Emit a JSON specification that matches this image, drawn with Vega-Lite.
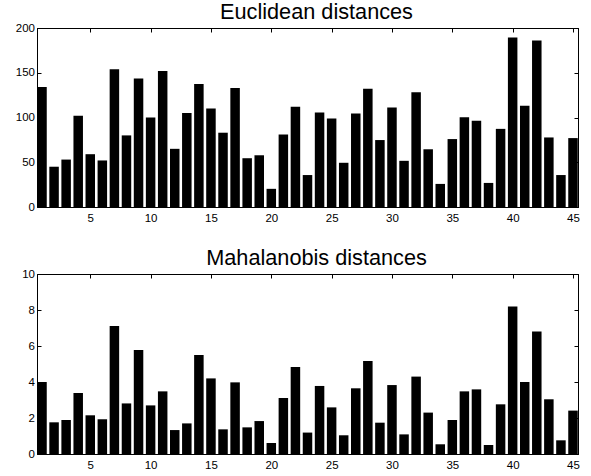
{
  "$schema": "https://vega.github.io/schema/vega-lite/v6.json",
  "background": "white",
  "padding": {"left": 14, "top": 1, "right": 14, "bottom": 2},
  "spacing": 23,
  "config": {
    "font": "Liberation Sans",
    "view": {"stroke": "black", "strokeWidth": 1},
    "title": {"fontSize": 21.7, "fontWeight": "normal", "color": "black", "offset": -2, "dx": 9, "font": "Liberation Sans"},
    "axis": {
      "domainColor": "black",
      "tickColor": "black",
      "labelColor": "black",
      "labelFontSize": 11.5,
      "labelFont": "Liberation Sans",
      "tickSize": -4,
      "grid": false,
      "title": null
    },
    "axisX": {"labelPadding": 9},
    "axisY": {"labelPadding": 6.5}
  },
  "datasets": {
    "eu": [
      {"i": 1, "d": 134}, {"i": 2, "d": 45}, {"i": 3, "d": 53}, {"i": 4, "d": 102}, {"i": 5, "d": 59},
      {"i": 6, "d": 52}, {"i": 7, "d": 154}, {"i": 8, "d": 80}, {"i": 9, "d": 143.6}, {"i": 10, "d": 100},
      {"i": 11, "d": 152}, {"i": 12, "d": 65}, {"i": 13, "d": 105}, {"i": 14, "d": 137.4}, {"i": 15, "d": 110},
      {"i": 16, "d": 83}, {"i": 17, "d": 133}, {"i": 18, "d": 54.5}, {"i": 19, "d": 57.8}, {"i": 20, "d": 20.3},
      {"i": 21, "d": 81}, {"i": 22, "d": 112}, {"i": 23, "d": 35.7}, {"i": 24, "d": 105.7}, {"i": 25, "d": 99},
      {"i": 26, "d": 49.4}, {"i": 27, "d": 104.6}, {"i": 28, "d": 132.2}, {"i": 29, "d": 74.8}, {"i": 30, "d": 111.2},
      {"i": 31, "d": 51.6}, {"i": 32, "d": 128.2}, {"i": 33, "d": 64.5}, {"i": 34, "d": 25.8}, {"i": 35, "d": 75.9},
      {"i": 36, "d": 100.2}, {"i": 37, "d": 96.5}, {"i": 38, "d": 26.9}, {"i": 39, "d": 87.3}, {"i": 40, "d": 189.3},
      {"i": 41, "d": 113.1}, {"i": 42, "d": 186}, {"i": 43, "d": 77.7}, {"i": 44, "d": 35.7}, {"i": 45, "d": 77}
    ],
    "ma": [
      {"i": 1, "d": 4.0}, {"i": 2, "d": 1.76}, {"i": 3, "d": 1.89}, {"i": 4, "d": 3.39}, {"i": 5, "d": 2.15},
      {"i": 6, "d": 1.93}, {"i": 7, "d": 7.11}, {"i": 8, "d": 2.81}, {"i": 9, "d": 5.78}, {"i": 10, "d": 2.7},
      {"i": 11, "d": 3.48}, {"i": 12, "d": 1.33}, {"i": 13, "d": 1.7}, {"i": 14, "d": 5.5}, {"i": 15, "d": 4.2},
      {"i": 16, "d": 1.37}, {"i": 17, "d": 3.98}, {"i": 18, "d": 1.48}, {"i": 19, "d": 1.83}, {"i": 20, "d": 0.61},
      {"i": 21, "d": 3.11}, {"i": 22, "d": 4.83}, {"i": 23, "d": 1.19}, {"i": 24, "d": 3.78}, {"i": 25, "d": 2.59},
      {"i": 26, "d": 1.04}, {"i": 27, "d": 3.65}, {"i": 28, "d": 5.17}, {"i": 29, "d": 1.74}, {"i": 30, "d": 3.83},
      {"i": 31, "d": 1.09}, {"i": 32, "d": 4.3}, {"i": 33, "d": 2.3}, {"i": 34, "d": 0.54}, {"i": 35, "d": 1.89},
      {"i": 36, "d": 3.48}, {"i": 37, "d": 3.59}, {"i": 38, "d": 0.5}, {"i": 39, "d": 2.76}, {"i": 40, "d": 8.2},
      {"i": 41, "d": 4.0}, {"i": 42, "d": 6.81}, {"i": 43, "d": 3.04}, {"i": 44, "d": 0.76}, {"i": 45, "d": 2.41}
    ]
  },
  "vconcat": [
    {
      "title": "Euclidean distances",
      "width": 541,
      "height": 179,
      "data": {"name": "eu"},
      "resolve": {"axis": {"x": "independent", "y": "independent"}},
      "layer": [
        {
          "mark": {"type": "bar", "color": "black", "width": 9.5, "clip": true},
          "encoding": {
            "x": {"field": "i", "type": "quantitative", "scale": {"domain": [1, 45], "nice": false, "zero": false},
                  "axis": {"orient": "bottom", "values": [5, 10, 15, 20, 25, 30, 35, 40, 45]}},
            "y": {"field": "d", "type": "quantitative", "scale": {"domain": [0, 200], "nice": false},
                  "axis": {"orient": "left", "values": [0, 50, 100, 150, 200]}}
          }
        },
        {
          "mark": {"type": "bar", "opacity": 0, "width": 1, "clip": true},
          "encoding": {
            "x": {"field": "i", "type": "quantitative", "scale": {"domain": [1, 45], "nice": false, "zero": false},
                  "axis": {"orient": "top", "values": [5, 10, 15, 20, 25, 30, 35, 40, 45], "labels": false}},
            "y": {"field": "d", "type": "quantitative", "scale": {"domain": [0, 200], "nice": false},
                  "axis": {"orient": "right", "values": [0, 50, 100, 150, 200], "labels": false}}
          }
        }
      ]
    },
    {
      "title": "Mahalanobis distances",
      "width": 541,
      "height": 180,
      "data": {"name": "ma"},
      "resolve": {"axis": {"x": "independent", "y": "independent"}},
      "layer": [
        {
          "mark": {"type": "bar", "color": "black", "width": 9.5, "clip": true},
          "encoding": {
            "x": {"field": "i", "type": "quantitative", "scale": {"domain": [1, 45], "nice": false, "zero": false},
                  "axis": {"orient": "bottom", "values": [5, 10, 15, 20, 25, 30, 35, 40, 45]}},
            "y": {"field": "d", "type": "quantitative", "scale": {"domain": [0, 10], "nice": false},
                  "axis": {"orient": "left", "values": [0, 2, 4, 6, 8, 10]}}
          }
        },
        {
          "mark": {"type": "bar", "opacity": 0, "width": 1, "clip": true},
          "encoding": {
            "x": {"field": "i", "type": "quantitative", "scale": {"domain": [1, 45], "nice": false, "zero": false},
                  "axis": {"orient": "top", "values": [5, 10, 15, 20, 25, 30, 35, 40, 45], "labels": false}},
            "y": {"field": "d", "type": "quantitative", "scale": {"domain": [0, 10], "nice": false},
                  "axis": {"orient": "right", "values": [0, 2, 4, 6, 8, 10], "labels": false}}
          }
        }
      ]
    }
  ]
}
